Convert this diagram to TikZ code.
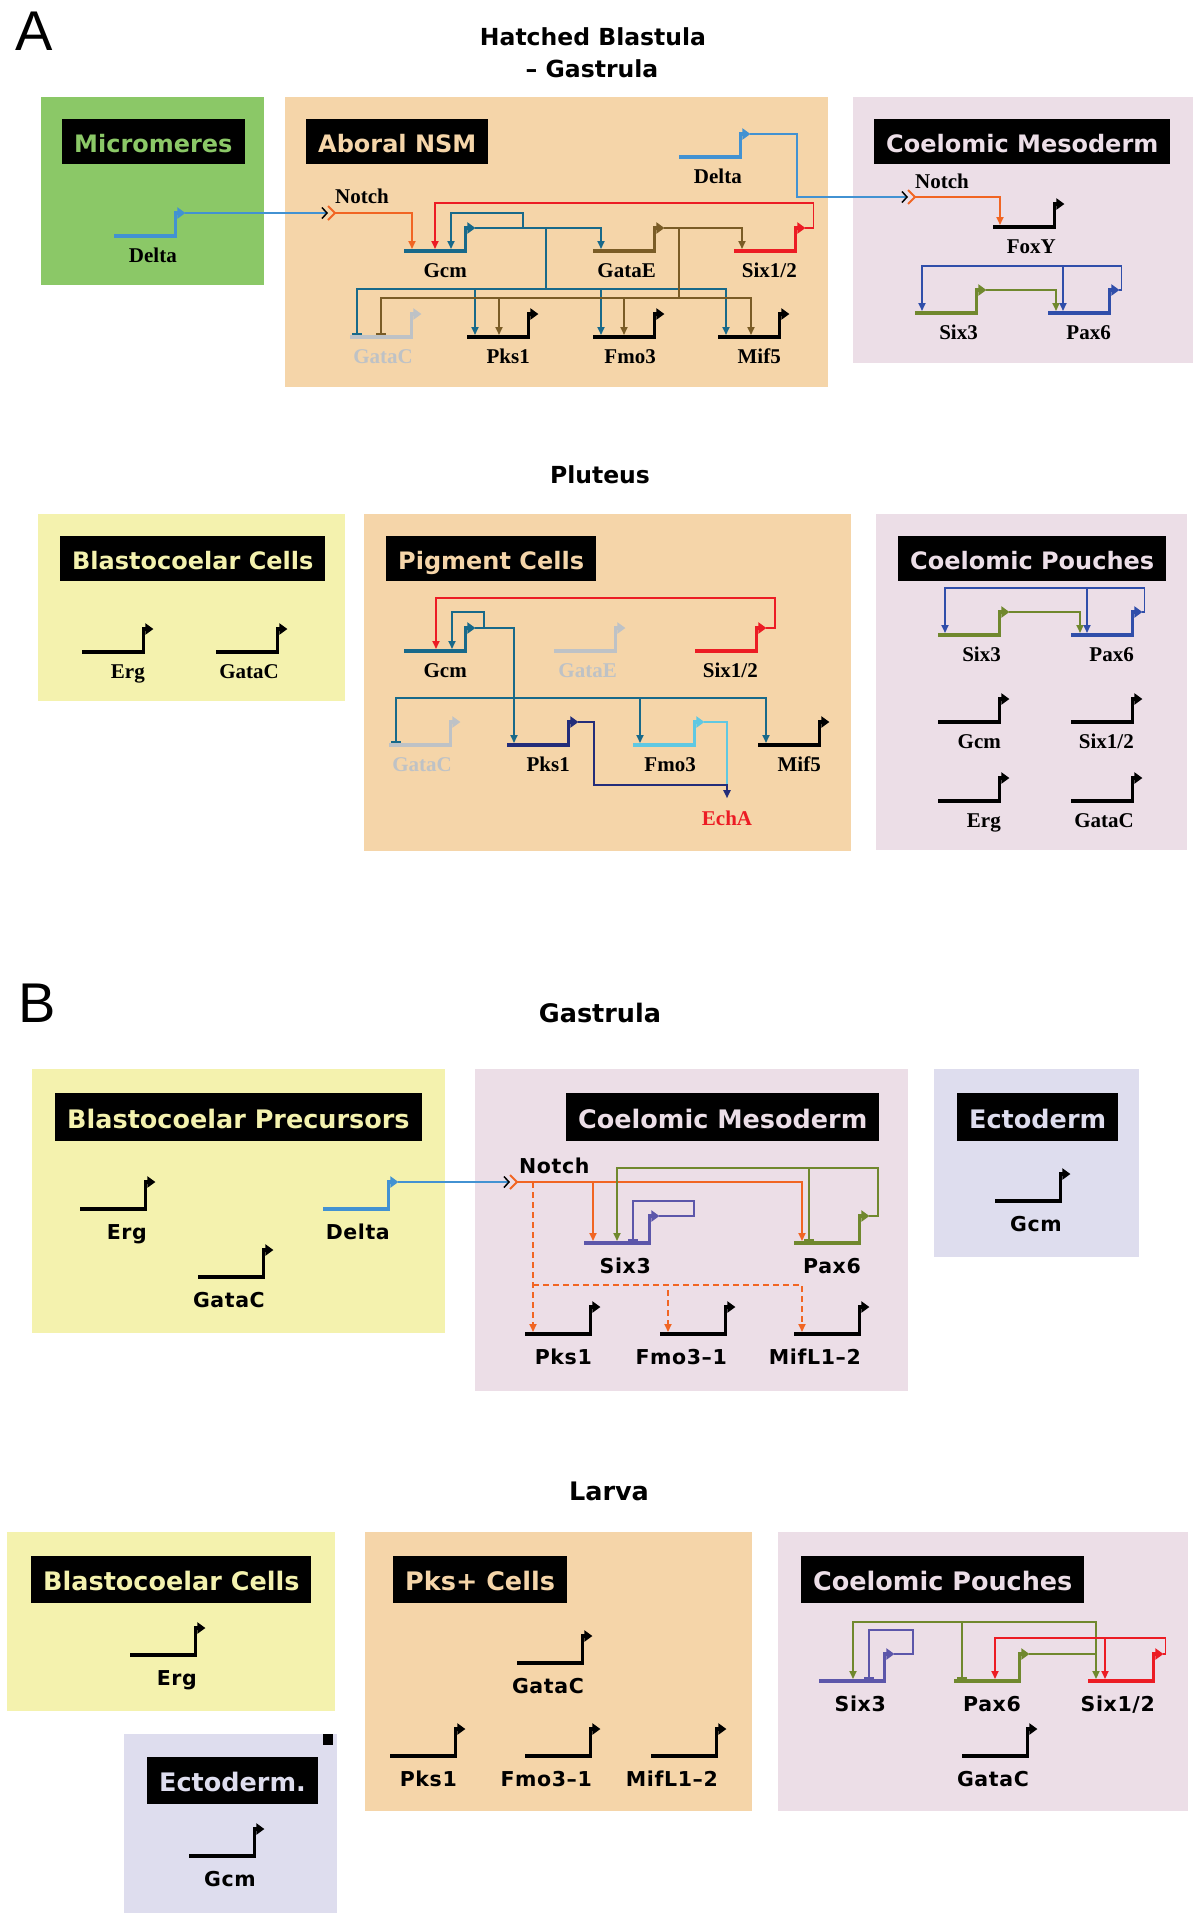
\documentclass[tikz,border=0pt]{standalone}
\usepackage{fontspec}
\setmainfont{Liberation Serif}
\newfontfamily\labfont{DejaVu Sans}
\newfontfamily\genefont{DejaVu Sans}[LetterSpace=3]
\newfontfamily\panelfont{Liberation Sans}
\usetikzlibrary{calc,arrows.meta}

\definecolor{fgreen}{RGB}{139,200,103}
\definecolor{fpeach}{RGB}{245,213,169}
\definecolor{fpink}{RGB}{236,222,231}
\definecolor{fyellow}{RGB}{244,242,174}
\definecolor{flav}{RGB}{222,221,238}
\definecolor{cdelta}{RGB}{66,146,210}
\definecolor{cnotch}{RGB}{241,101,35}
\definecolor{cgcm}{RGB}{24,105,138}
\definecolor{cgatae}{RGB}{122,92,38}
\definecolor{csix}{RGB}{236,28,36}
\definecolor{cdim}{RGB}{190,194,198}
\definecolor{cpks}{RGB}{35,45,122}
\definecolor{cfmo}{RGB}{95,200,226}
\definecolor{colive}{RGB}{112,136,46}
\definecolor{cpax}{RGB}{48,78,170}
\definecolor{cviolet}{RGB}{92,86,170}

\newcommand{\barlen}{63}
\newcommand{\generise}{23}
\newcommand{\labdrop}{26}

% bar + promoter arrow + right-aligned name
\newcommand{\gene}[5]{%
  \coordinate (#1) at (#2,#3);
  \draw[genebar,#4] (#1) -- ++(\barlen,0) coordinate (#1-r);
  \draw[promoter,#4] ($(#1-r)+(-1.6,0)$) -- ++(0,-\generise) -- ++(10,0) coordinate (#1-tip);
  \node[genelabel] (#1-l) at ($(#1-r)+(0,\labdrop)$) {#5};
}
\newcommand{\notchrec}[3]{%
  \coordinate (#1) at (#2,#3);
  \draw[recep] ($(#1)+(-7,-7)$) -- (#1) -- ($(#1)+(-7,7)$);
}

\tikzset{
  genebar/.style={line width=4pt},
  promoter/.style={line width=3.2pt, -{Triangle[length=8pt,width=11pt]}},
  wire/.style={line width=1.8pt},
  act/.style={wire, -{Triangle[length=8pt,width=7pt]}, shorten >=2pt},
  rep/.style={wire, -{Bar[width=10pt]}, shorten >=2.5pt},
  dact/.style={act, dash pattern=on 6pt off 4pt},
  sig/.style={cdelta, line width=1.5pt,
    -{Straight Barb[length=5pt,width=11pt,color=black]}, shorten >=7pt},
  recep/.style={cnotch, line width=1.8pt},
  boxlabel/.style={fill=black, anchor=north west, inner xsep=12pt, inner ysep=0pt,
    text height=24pt, text depth=2pt, minimum height=45pt,
    font=\labfont\bfseries\fontsize{24}{24}\selectfont},
  boxlabelB/.style={boxlabel, minimum height=48pt,
    font=\labfont\bfseries\fontsize{25.5}{25.5}\selectfont},
  stage/.style={anchor=base, inner sep=0pt,
    font=\labfont\bfseries\fontsize{23.5}{23.5}\selectfont},
  stageB/.style={stage, font=\labfont\bfseries\fontsize{25.5}{25.5}\selectfont},
  panel/.style={anchor=base west, inner sep=0pt,
    font=\panelfont\fontsize{56}{56}\selectfont},
  serifgene/.style={anchor=base east, inner sep=0pt,
    font=\bfseries\fontsize{21}{21}\selectfont},
  sansgene/.style={anchor=base east, inner sep=0pt,
    font=\genefont\bfseries\fontsize{20.5}{20.5}\selectfont},
}

\begin{document}
\begin{tikzpicture}[x=1pt,y=-1pt]
  \useasboundingbox (0,0) rectangle (1202,1920);
  \fill[white] (0,0) rectangle (1202,1920);

  % ---------------- A
  \node[panel] (pA) at (15,50) {A};
  \node[stage] (st1a) at (593,45) {Hatched Blastula};
  \node[stage] (st1b) at (592,77) {– Gastrula};

  \fill[fgreen] (41,97) rectangle (264,285);
  \fill[fpeach] (285,97) rectangle (828,387);
  \fill[fpink] (853,97) rectangle (1193,363);
  \node[boxlabel,text=fgreen] (micro-t) at (62,119) {Micromeres};
  \node[boxlabel,text=fpeach] (nsm-t) at (306,119) {Aboral NSM};
  \node[boxlabel,text=fpink] (cmA-t) at (874,119) {Coelomic Mesoderm};

  \begin{scope}[genelabel/.style={serifgene}]
    \gene{deltaM}{114}{236}{cdelta}{Delta}
    \gene{deltaN}{679}{157}{cdelta}{Delta}
    \gene{gcmA}{404}{251}{cgcm}{Gcm}
    \gene{gataeA}{593}{251}{cgatae}{GataE}
    \gene{sixA}{734}{251}{csix}{Six1/2}
    \gene{gatacA}{350}{337}{cdim}{\color{cdim}GataC}
    \gene{pksA}{467}{337}{black}{Pks1}
    \gene{fmoA}{593}{337}{black}{Fmo3}
    \gene{mifA}{718}{337}{black}{Mif5}
    \gene{foxyA}{993}{227}{black}{FoxY}
    \gene{six3A}{915}{313}{colive}{Six3}
    \gene{pax6A}{1048}{313}{cpax}{Pax6}

    \notchrec{notchA}{335}{213}
    \notchrec{notchC}{915}{197}
    \node[serifgene,anchor=base west] (notchA-l) at ($(notchA)+(0,-10)$) {Notch};
    \node[serifgene,anchor=base west] (notchC-l) at ($(notchC)+(0,-9)$) {Notch};
  \end{scope}

  \draw[sig] (deltaM-tip) -- (notchA);
  \draw[act,cnotch] (notchA) -| (412,0 |- gcmA);
  \draw[act,csix] (sixA-tip) -- ++(8,0) |- (435,203) -- (435,0 |- gcmA);

  \draw[act,cgcm] (gcmA-tip) -| (601,0 |- gataeA);
  \draw[act,cgcm] (gcmA-tip) -- ++(47.6,0) |- (451,213) -- (451,0 |- gcmA);
  \coordinate (gcmbusA) at (546,289);
  \draw[wire,cgcm] (gcmA-tip) -| (gcmbusA);
  \draw[rep,cgcm] (gcmbusA) -| (357,0 |- gatacA);
  \draw[act,cgcm] (gcmbusA) -| (475,0 |- pksA);
  \draw[act,cgcm] (gcmbusA) -| (601,0 |- fmoA);
  \draw[act,cgcm] (gcmbusA) -| (726,0 |- mifA);

  \draw[act,cgatae] (gataeA-tip) -| (742,0 |- sixA);
  \coordinate (gatbusA) at (679,298);
  \draw[wire,cgatae] (gataeA-tip) -| (gatbusA);
  \draw[rep,cgatae] (gatbusA) -| (381,0 |- gatacA);
  \draw[act,cgatae] (gatbusA) -| (499,0 |- pksA);
  \draw[act,cgatae] (gatbusA) -| (624,0 |- fmoA);
  \draw[act,cgatae] (gatbusA) -| (751,0 |- mifA);

  \draw[sig] (deltaN-tip) -| (797,0 |- notchC) -- (notchC);
  \draw[act,cnotch] (notchC) -| (1000,0 |- foxyA);
  \draw[act,colive] (six3A-tip) -| (1056,0 |- pax6A);
  \draw[act,cpax] (pax6A-tip) -- ++(2,0) |- (922,266) -- (922,0 |- six3A);
  \coordinate (paxloopA) at (1063,266);
  \draw[act,cpax] (paxloopA) -- (1063,0 |- pax6A);

  % Pluteus
  \node[stage] (st2) at (600,483) {Pluteus};
  \fill[fyellow] (38,514) rectangle (345,701);
  \fill[fpeach] (364,514) rectangle (851,851);
  \fill[fpink] (876,514) rectangle (1187,850);
  \node[boxlabel,text=fyellow] (bcP-t) at (60,536) {Blastocoelar Cells};
  \node[boxlabel,text=fpeach] (pig-t) at (386,536) {Pigment Cells};
  \node[boxlabel,text=fpink] (cpP-t) at (898,536) {Coelomic Pouches};

  \begin{scope}[genelabel/.style={serifgene}]
    \gene{ergP}{82}{652}{black}{Erg}
    \gene{gatacP}{216}{652}{black}{GataC}
    \gene{gcmP}{404}{651}{cgcm}{Gcm}
    \gene{gataeP}{554}{651}{cdim}{\color{cdim}GataE}
    \gene{sixP}{695}{651}{csix}{Six1/2}
    \gene{gatacP2}{389}{745}{cdim}{\color{cdim}GataC}
    \gene{pksP}{507}{745}{cpks}{Pks1}
    \gene{fmoP}{633}{745}{cfmo}{Fmo3}
    \gene{mifP}{758}{745}{black}{Mif5}
    \gene{six3P}{938}{635}{colive}{Six3}
    \gene{pax6P}{1071}{635}{cpax}{Pax6}
    \gene{gcmCP}{938}{722}{black}{Gcm}
    \gene{sixCP}{1071}{722}{black}{Six1/2}
    \gene{ergCP}{938}{801}{black}{Erg}
    \gene{gatacCP}{1071}{801}{black}{GataC}
    \node[serifgene,anchor=base,text=csix] (echa) at (727,825) {EchA};
  \end{scope}

  \draw[act,csix] (sixP-tip) -- ++(8.5,0) |- (436,598) -- (436,0 |- gcmP);
  \draw[act,cgcm] (gcmP-tip) -- ++(8.6,0) |- (452,612) -- (452,0 |- gcmP);
  \draw[act,cgcm] (gcmP-tip) -| (514,0 |- pksP);
  \coordinate (gcmbusP) at (514,698);
  \draw[rep,cgcm] (gcmbusP) -| (396,0 |- gatacP2);
  \draw[act,cgcm] (gcmbusP) -| (640,0 |- fmoP);
  \draw[act,cgcm] (gcmbusP) -| (766,0 |- mifP);
  \draw[wire,cfmo] (fmoP-tip) -| (727,785);
  \draw[act,cpks] (pksP-tip) -- ++(15.5,0) |- (727,785) -- ([yshift=10pt]echa.north);

  \draw[act,colive] (six3P-tip) -| (1080,0 |- pax6P);
  \draw[act,cpax] (pax6P-tip) -- ++(2,0) |- (945,588) -- (945,0 |- six3P);
  \coordinate (paxloopP) at (1087,588);
  \draw[act,cpax] (paxloopP) -- (1087,0 |- pax6P);

  % ---------------- B
  \node[panel] (pB) at (18,1022) {B};
  \node[stageB] (st3) at (600,1022) {Gastrula};
  \fill[fyellow] (32,1069) rectangle (445,1333);
  \fill[fpink] (475,1069) rectangle (908,1391);
  \fill[flav] (934,1069) rectangle (1139,1257);
  \node[boxlabelB,text=fyellow] (bpr-t) at (55,1093) {Blastocoelar Precursors};
  \node[boxlabelB,text=fpink] (cmB-t) at (566,1093) {Coelomic Mesoderm};
  \node[boxlabelB,text=flav] (ecB-t) at (957,1093) {Ectoderm};

  \begin{scope}[genelabel/.style={sansgene}]
    \renewcommand{\barlen}{67}
    \renewcommand{\generise}{27}
    \renewcommand{\labdrop}{30}
    \gene{ergB}{80}{1209}{black}{Erg}
    \gene{gatacB}{198}{1277}{black}{GataC}
    \gene{deltaB}{323}{1209}{cdelta}{Delta}
    \gene{six3B}{584}{1243}{cviolet}{Six3}
    \gene{pax6B}{794}{1243}{colive}{Pax6}
    \gene{pksB}{525}{1334}{black}{Pks1}
    \gene{fmoB}{660}{1334}{black}{Fmo3–1}
    \gene{mifB}{794}{1334}{black}{MifL1–2}
    \gene{gcmE}{995}{1201}{black}{Gcm}
    \notchrec{notchB}{517}{1182}
    \node[sansgene,anchor=base west] (notchB-l) at ($(notchB)+(2,-9)$) {Notch};

    % Larva
    \node[stageB] (st4) at (609,1500) {Larva};
    \fill[fyellow] (7,1532) rectangle (335,1711);
    \fill[flav] (124,1734) rectangle (337,1913);
    \fill[black] (323,1734) rectangle (333,1745);
    \fill[fpeach] (365,1532) rectangle (752,1811);
    \fill[fpink] (778,1532) rectangle (1188,1811);
    \node[boxlabelB,minimum height=47pt,text=fyellow] (bcL-t) at (31,1556) {Blastocoelar Cells};
    \node[boxlabelB,minimum height=47pt,text=flav] (ecL-t) at (147,1757) {Ectoderm.};
    \node[boxlabelB,minimum height=47pt,text=fpeach] (pksL-t) at (393,1556) {Pks+ Cells};
    \node[boxlabelB,minimum height=47pt,text=fpink] (cpL-t) at (801,1556) {Coelomic Pouches};

    \gene{ergL}{130}{1655}{black}{Erg}
    \gene{gcmL}{189}{1856}{black}{Gcm}
    \gene{gatacL}{517}{1663}{black}{GataC}
    \gene{pksL}{390}{1756}{black}{Pks1}
    \gene{fmoL}{525}{1756}{black}{Fmo3–1}
    \gene{mifL}{651}{1756}{black}{MifL1–2}
    \gene{six3L}{819}{1681}{cviolet}{Six3}
    \gene{pax6L}{954}{1681}{colive}{Pax6}
    \gene{sixL}{1088}{1681}{csix}{Six1/2}
    \gene{gatacL2}{962}{1756}{black}{GataC}
  \end{scope}

  \draw[sig] (deltaB-tip) -- (notchB);
  \draw[act,cnotch] (notchB) -| (802,0 |- pax6B);
  \draw[act,cnotch] (notchB) -| (593,0 |- six3B);
  \draw[dact,cnotch] (notchB) ++(16,0) -- (533,0 |- pksB);
  \coordinate (nbusB) at (533,1285);
  \draw[dact,cnotch] (nbusB) -| (668,0 |- fmoB);
  \draw[dact,cnotch] (nbusB) -| (802,0 |- mifB);
  \draw[rep,cviolet] (six3B-tip) -- ++(34.6,0) |- (633,1201) -- (633,0 |- six3B);
  \draw[act,colive] (pax6B-tip) -- ++(8.6,0) |- (617,1168) -- (617,0 |- six3B);
  \coordinate (paxloopB) at (809,1168);
  \draw[rep,colive] (paxloopB) -- (809,0 |- pax6B);

  \draw[rep,cviolet] (six3L-tip) -- ++(18.6,0) |- (869,1630) -- (869,0 |- six3L);
  \draw[act,colive] (pax6L-tip) -| (1096,0 |- sixL);
  \draw[act,colive] (pax6L-tip) -| (1096,1622) -| (853,0 |- six3L);
  \coordinate (paxloopL) at (962,1622);
  \draw[rep,colive] (paxloopL) -- (962,0 |- pax6L);
  \draw[act,csix] (sixL-tip) -- ++(2,0) |- (995,1638) -- (995,0 |- pax6L);
  \coordinate (sixloopL) at (1105,1638);
  \draw[act,csix] (sixloopL) -- (1105,0 |- sixL);
\end{tikzpicture}
\end{document}
